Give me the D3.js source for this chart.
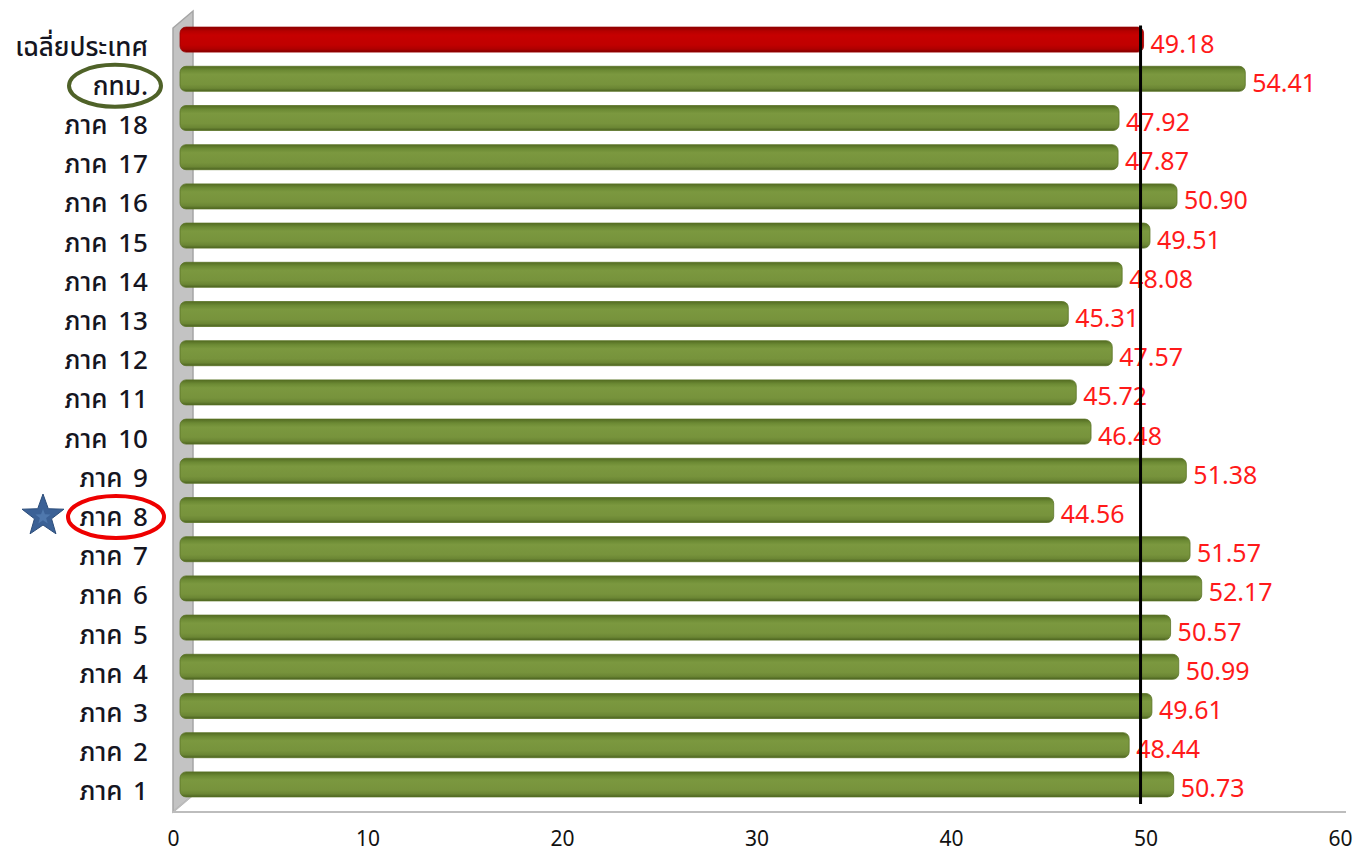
<!DOCTYPE html>
<html>
<head>
<meta charset="utf-8">
<script src="https://cdn.jsdelivr.net/npm/d3@7"></script>
<style>
  html, body { margin: 0; padding: 0; background: #ffffff; }
  svg { display: block; }
  text { font-family: Tahoma, "Noto Sans Thai", "Liberation Sans", "DejaVu Sans", sans-serif; }
</style>
</head>
<body>
<svg id="chart" width="1359" height="857"></svg>
<script>
// Regions, top to bottom
const categories = [
  "เฉลี่ยประเทศ", "กทม.", "ภาค 18", "ภาค 17", "ภาค 16", "ภาค 15", "ภาค 14",
  "ภาค 13", "ภาค 12", "ภาค 11", "ภาค 10", "ภาค 9", "ภาค 8", "ภาค 7",
  "ภาค 6", "ภาค 5", "ภาค 4", "ภาค 3", "ภาค 2", "ภาค 1"
];
const values = [
  49.18, 54.41, 47.92, 47.87, 50.90, 49.51, 48.08,
  45.31, 47.57, 45.72, 46.48, 51.38, 44.56, 51.57,
  52.17, 50.57, 50.99, 49.61, 48.44, 50.73
];
const xTicks = [0, 10, 20, 30, 40, 50, 60];
const averageLabel = "เฉลี่ยประเทศ";
const circledGreen = "กทม.";
const circledRed = "ภาค 8";

const svg = d3.select("#chart");

// Front plane of the 3-D plot box
const plotLeft = 173, plotRight = 1340, plotTop = 28, plotBottom = 812;
// Depth offset of the back wall, and of the bars (mid depth)
const depthX = 20, depthY = -17;
const barDX = 11, barDY = -8;
const capW = 3; // rounded end cap of each bar

const x = d3.scaleLinear().domain([0, 60]).range([plotLeft, plotRight]);
const y = d3.scaleBand().domain(categories).range([plotTop, plotBottom]).paddingInner(0).paddingOuter(0);
const barH = 25;

const defs = svg.append("defs");
function barGradient(id, stops) {
  const g = defs.append("linearGradient").attr("id", id)
    .attr("x1", 0).attr("y1", 0).attr("x2", 0).attr("y2", 1);
  stops.forEach(([o, c]) => g.append("stop").attr("offset", o).attr("stop-color", c));
}
barGradient("gGreen", [[0, "#536b22"], [0.16, "#6c8a34"], [0.32, "#7b983f"], [0.72, "#77933c"], [0.88, "#6b8634"], [1, "#4b6220"]]);
barGradient("gRed", [[0, "#8a0000"], [0.16, "#b60000"], [0.32, "#c60000"], [0.72, "#c00000"], [0.88, "#ae0000"], [1, "#820000"]]);

// Side wall
svg.append("polygon")
  .attr("points", [
    [plotLeft, plotTop], [plotLeft + depthX, plotTop + depthY],
    [plotLeft + depthX, plotBottom + depthY], [plotLeft, plotBottom]
  ].map(p => p.join(",")).join(" "))
  .attr("fill", "#c3c3c3")
  .attr("stroke", "#a5a5a5")
  .attr("stroke-width", 1.5);

// Floor edges
svg.append("line")
  .attr("x1", plotLeft).attr("y1", plotBottom)
  .attr("x2", plotRight + 6).attr("y2", plotBottom)
  .attr("stroke", "#bdbdbd").attr("stroke-width", 2);
svg.append("line")
  .attr("x1", plotLeft).attr("y1", plotBottom)
  .attr("x2", plotLeft + depthX).attr("y2", plotBottom + depthY)
  .attr("stroke", "#bdbdbd").attr("stroke-width", 1.5);

// Bars
const bx = v => x(v) + barDX;
const by = c => y(c) + y.bandwidth() / 2 + barDY;

const bars = svg.append("g");
bars.selectAll("rect")
  .data(categories)
  .join("rect")
  .attr("x", c => bx(0) - 4)
  .attr("y", c => by(c) - barH / 2)
  .attr("width", (c, i) => bx(values[i]) - bx(0) + 4 + capW)
  .attr("height", barH)
  .attr("rx", 6).attr("ry", 6)
  .attr("fill", c => c === averageLabel ? "url(#gRed)" : "url(#gGreen)")
  .attr("stroke", c => c === averageLabel ? "#9a0000" : "#5a7326")
  .attr("stroke-width", 0.8);

// Value labels
svg.append("g").selectAll("text")
  .data(categories)
  .join("text")
  .attr("x", (c, i) => bx(values[i]) + capW + 7)
  .attr("y", c => by(c) + 5)
  .attr("dominant-baseline", "central")
  .attr("fill", "#ff1a1a")
  .attr("font-size", 25)
  .text((c, i) => values[i].toFixed(2));

// Reference line at the national average
const avg = values[categories.indexOf(averageLabel)];
svg.append("line")
  .attr("x1", bx(avg)).attr("x2", bx(avg))
  .attr("y1", by(categories[0]) - 14)
  .attr("y2", by(categories[categories.length - 1]) + barH / 2 + 7)
  .attr("stroke", "#000").attr("stroke-width", 3);

// Category labels
svg.append("g").selectAll("text")
  .data(categories)
  .join("text")
  .attr("x", 148)
  .attr("y", c => y(c) + y.bandwidth() / 2)
  .attr("text-anchor", "end")
  .attr("dominant-baseline", "central")
  .attr("fill", "#15151f")
  .attr("font-size", 26)
  .attr("font-weight", 500)
  .attr("word-spacing", 4)
  .text(c => c);

// X axis tick labels
const xAxis = d3.axisBottom(x).tickValues(xTicks).tickSize(0).tickPadding(0).tickFormat(d3.format("d"));
const gx = svg.append("g").attr("transform", `translate(0,${plotBottom + 27})`).call(xAxis);
gx.select(".domain").remove();
gx.selectAll("text")
  .attr("dy", null)
  .attr("dominant-baseline", "central")
  .attr("font-size", 21)
  .attr("fill", "#111")
  .attr("font-family", '"Liberation Sans", "DejaVu Sans", sans-serif');

// Highlight ellipses around labels
const labelY = c => y(c) + y.bandwidth() / 2;
svg.append("ellipse")
  .attr("cx", 115).attr("cy", labelY(circledGreen) - 1)
  .attr("rx", 46).attr("ry", 21)
  .attr("fill", "none").attr("stroke", "#4f6228").attr("stroke-width", 4);
svg.append("ellipse")
  .attr("cx", 116).attr("cy", labelY(circledRed) - 1)
  .attr("rx", 48).attr("ry", 21)
  .attr("fill", "none").attr("stroke", "#ee0000").attr("stroke-width", 4);

// Star marker
const starPts = (cx, cy, R, r) => d3.range(10).map(k => {
  const a = -Math.PI / 2 + k * Math.PI / 5;
  const rad = k % 2 === 0 ? R : r;
  return [cx + rad * Math.cos(a), cy + rad * Math.sin(a)];
});
const starY = labelY(circledRed) - 2;
svg.append("polygon")
  .attr("points", starPts(43, starY, 22, 9).map(p => p.join(",")).join(" "))
  .attr("fill", "#3b6196").attr("stroke", "#2c4d7a").attr("stroke-width", 1);
svg.append("polygon")
  .attr("points", starPts(43, starY + 1, 8, 3.3).map(p => p.join(",")).join(" "))
  .attr("fill", "#4f78ad");
</script>
</body>
</html>
